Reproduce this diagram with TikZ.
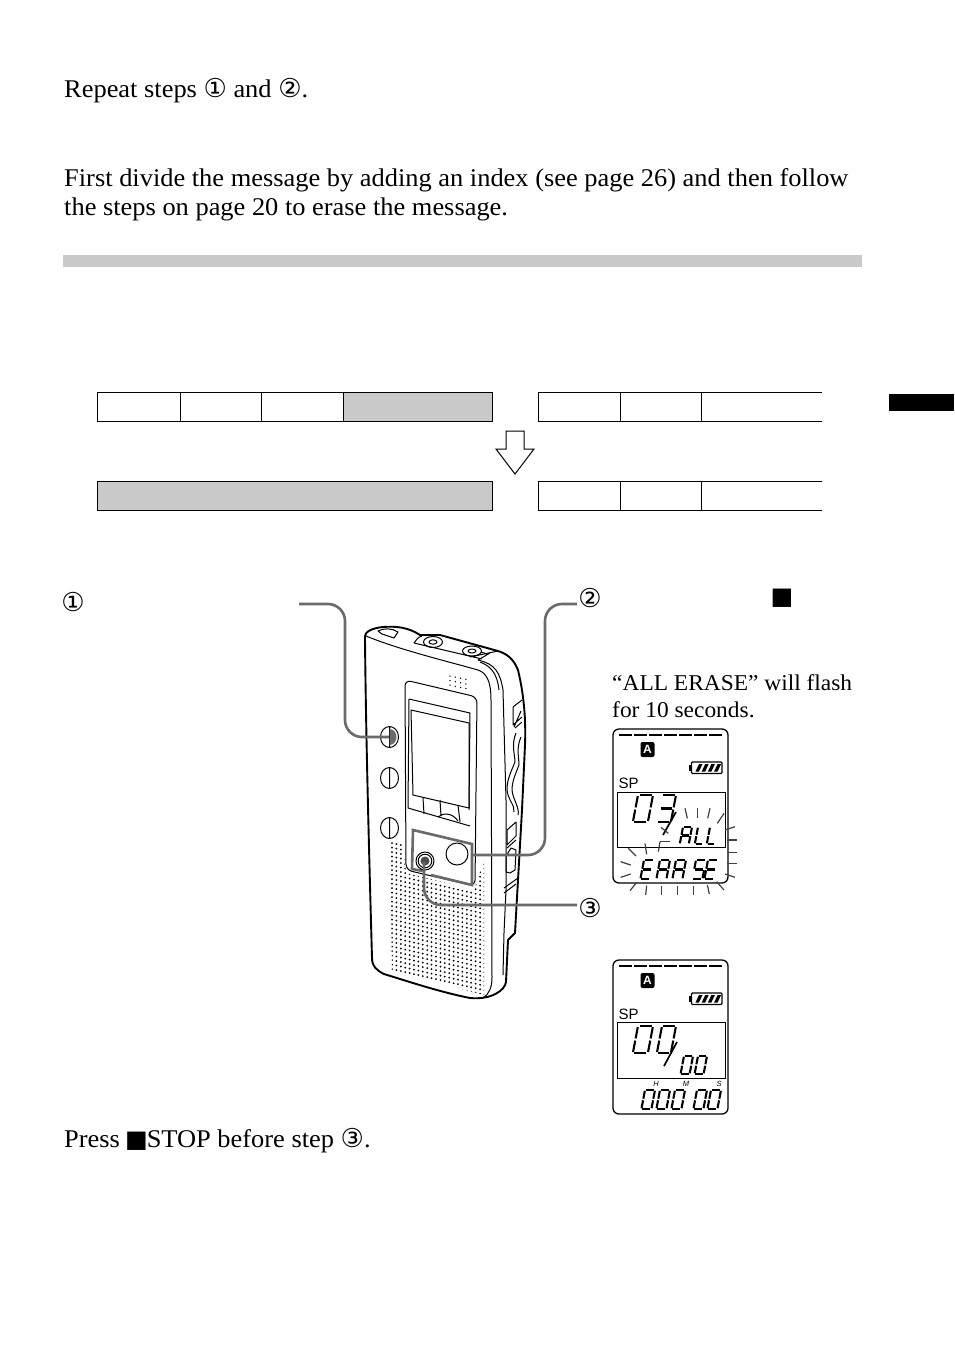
\documentclass[tikz,border=0pt]{standalone}
\usepackage{fontspec}
\setmainfont{Liberation Serif}[FakeStretch=1.036]
\newfontfamily\symf{DejaVu Sans}
\newfontfamily\lcdf{Liberation Sans}
\usetikzlibrary{calc}
\definecolor{barg}{HTML}{C9C9C9}
\definecolor{conng}{HTML}{6A6A6A}
\newcommand\circfont{\symf\fontsize{26}{24}\selectfont}
\tikzset{
 body/.style={anchor=base west,inner sep=0pt,font=\fontsize{25.5}{28}\selectfont},
 bodysmall/.style={anchor=base west,inner sep=0pt,font=\fontsize{22.6}{26}\selectfont},
 circnum/.style={inner sep=0pt,font=\circfont},
 cell/.style={draw=black,line width=.9pt},
 conn/.style={draw=conng,line width=2.6pt,rounded corners=17pt},
 dev/.style={draw=black,line width=1pt,line join=round},
 devb/.style={draw=black,line width=1.9pt,line join=round},
 segl/.style={draw=black,line width=2.1pt,line cap=butt},
 ray/.style={draw=black!75,line width=1.2pt},
 lcdbox/.style={draw=black,line width=1.3pt,rounded corners=6pt},
 lcdin/.style={draw=black,line width=.9pt},
}
\newcommand\segA{\draw[segl](.1,0)--(.9,0);}
\newcommand\segB{\draw[segl](1,.04)--(1,.46);}
\newcommand\segC{\draw[segl](1,.54)--(1,.96);}
\newcommand\segD{\draw[segl](.1,1)--(.9,1);}
\newcommand\segE{\draw[segl](0,.54)--(0,.96);}
\newcommand\segF{\draw[segl](0,.04)--(0,.46);}
\newcommand\segG{\draw[segl](.1,.5)--(.9,.5);}
\newcommand\dzero{\segA\segB\segC\segD\segE\segF}
\newcommand\dthree{\segA\segB\segC\segD\segG}
\newcommand\dA{\segA\segB\segC\segE\segF\segG}
\newcommand\dL{\segD\segE\segF}
\newcommand\dE{\segA\segD\segE\segF\segG}
\newcommand\dS{\segA\segC\segD\segF\segG}
\newcommand\lcddigit[5]{\begin{scope}[shift={(#1,#2)},x=#3pt,y=-#4pt,xslant=.19]#5\end{scope}}
\newcommand\lcdframe[1]{%
 \begin{scope}[yshift=-#1pt]
 \draw[lcdbox] (613,729) rectangle (728,883);
 \foreach \i in {0,...,6}{\draw[line width=2.4pt] ({619+\i*15},735)--({631.5+\i*15},735);}
 \fill[black,rounded corners=2pt] (640.5,742) rectangle (654.5,757);
 \node[inner sep=0pt,text=white,font=\lcdf\bfseries\fontsize{12}{12}\selectfont] at (647.5,749.5) {A};
 \draw[line width=1.2pt,rounded corners=1pt] (691.5,762) rectangle (722,773.5);
 \fill (689,765) rectangle (691.5,770.5);
 \foreach \i in {0,1,2,3}{\fill ({695.5+\i*6.2},771.5)--({699+\i*6.2},771.5)--({702.5+\i*6.2},764)--({699+\i*6.2},764)--cycle;}
 \node[anchor=base west,inner sep=0pt,font=\lcdf\fontsize{15}{15}\selectfont] at (618.5,788) {SP};
 \end{scope}}
\begin{document}
\begin{tikzpicture}[x=1pt,y=-1pt]
\useasboundingbox (0,0) rectangle (954,1345);
\fill[white] (0,0) rectangle (954,1345);
% page furniture
\fill[barg] (63,255) rectangle (862,267);
\fill[black] (889,394) rectangle (954,411);
% text
\node[body] (t1) at (64,97) {Repeat steps {\circfont ①} and {\circfont ②}.};
\node[body] (t2) at (64,186) {First divide the message by adding an index (see page 26) and then follow};
\node[body] (t3) at (64,215) {the steps on page 20 to erase the message.};
\node[bodysmall] (t4) at (612,690) {“ALL ERASE” will flash};
\node[bodysmall] (t5) at (612,717) {for 10 seconds.};
\node[body] (t6) at (64,1147) {Press\kern-1.5pt\ {\symf\fontsize{24}{24}\selectfont ■}\kern-1pt STOP before step {\circfont ③}.};
\node[circnum] (n1) at (73,602) {①};
\node[circnum] (n2) at (590,598) {②};
\node[circnum] (n3) at (590,908) {③};
\node[inner sep=0pt,font=\symf\fontsize{24}{24}\selectfont] (stopm) at (782,598) {■};
% message bars
\fill[barg] (343,392) rectangle (492,421);
\draw[cell] (97,392) rectangle (492,421);
\draw[cell] (180,392)--(180,421) (261,392)--(261,421) (343,392)--(343,421);
\draw[cell] (822,392)--(538,392)--(538,421)--(822,421) (620,392)--(620,421) (701,392)--(701,421);
\draw[cell,fill=barg] (97,481) rectangle (492,510);
\draw[cell] (822,481)--(538,481)--(538,510)--(822,510) (620,481)--(620,510) (701,481)--(701,510);
\draw[line width=1pt,line join=miter] (506,431)--(524,431)--(524,449)--(534,449)--(515,474)--(496,449)--(506,449)--cycle;
% ---------- device
% speaker dots
\begin{scope}
\clip (390,840)--(403,843)--(406,873)--(474,890)--(484,860)--(484,995)--(392,970)--cycle;
\foreach \i in {0,...,21}{\foreach \j in {-6,...,30}{
 \fill ({392+\i*4.4},{843+\i*4.4*.23+\j*4.5}) circle (1pt);}}
\end{scope}
% body outline
\draw[devb] (365,640)--(365,636) .. controls (365,632) and (372,628) .. (383,627)
 .. controls (395,626) and (408,627) .. (420,635) -- (440,635) -- (498,651)
 .. controls (508,654) and (514,660) .. (518,670)
 .. controls (524,695) and (526,720) .. (525,745)
 -- (522,810) -- (518,880) -- (515,933) -- (508,940)
 -- (506,982) .. controls (505,990) and (492,1000) .. (470,998)
 .. controls (440,992) and (410,982) .. (384,974)
 .. controls (376,970) and (372,966) .. (372,958)
 .. controls (369,850) and (366,740) .. (365,640);
% top details
\draw[dev] (366,636) .. controls (400,650) and (450,662) .. (478,670) .. controls (487,673) and (491,682) .. (491,700) -- (492,977) .. controls (492,988) and (489,994) .. (483,998);
\draw[dev] (414,643) .. controls (416,640) and (418,637) .. (422,636) (414,643) -- (482,659) (470,657) -- (498,651);
\draw[dev] (481,652) -- (487,654) (478,660) -- (490,653);
\draw[dev] (478,660) .. controls (495,664) and (500,672) .. (503,690) -- (506,800) -- (506,890) -- (504,933) -- (503,975) ;
\draw[dev] (480,662) .. controls (490,666) and (497,672) .. (499,690);
\draw[dev] (433,642) ellipse (9.5 and 5.5) (433,642) ellipse (4 and 2.2);
\draw[dev] (472,651) ellipse (9.5 and 5) (472,651) ellipse (4 and 2);
\draw[dev] (378,631) .. controls (384,628) and (392,628) .. (398,632) -- (394,638) -- (382,634) -- cycle;
% right side controls
\draw[dev] (513,707) -- (522,700) (513,707)--(513,725)--(522,717) (514,727)--(521,711)(515,728)--(522,722);
\draw[dev] (516,733) .. controls (511,745) and (515,755) .. (515,762) .. controls (512,770) and (507,778) .. (507,790) .. controls (508,800) and (515,805) .. (514,812);
\draw[dev] (521,737) .. controls (516,748) and (519,758) .. (519,765) .. controls (515,775) and (512,782) .. (512,790) .. controls (513,800) and (520,808) .. (518,815);
\draw[dev] (507,830) -- (516,822) -- (516,836) -- (507,845) -- cycle;
\draw[dev] (507,848)--(516,840) (506,872)--(506,856)--(511,848)--(516,850)--(515,870)--(510,873)--cycle;
\draw[dev] (504,888)--(518,878) (504,893)--(516,884);
% panel and screen
\draw[dev,rounded corners=6pt] (405,680)--(477,697)--(475,886)--(406,870)--cycle;
\draw[dev] (409,699)--(470,713)--(469,810) (409,699)--(408,808)--(470,826);
\draw[dev] (411,710)--(469,723)--(469,808)--(413,795)--cycle;
\draw[dev] (424,814)--(423,798) (438,817) .. controls (442,813) and (452,812) .. (458,821) (440,800)--(441,816);
\draw[dev] (460,822)--(458,805);
\foreach \i in {0,1,2}{\foreach \j in {0,1,2,3}{\fill ({450+\j*5.3},{676+\j*1.1+\i*4.6}) circle (.75pt);}}
% left buttons
\foreach \c in {737,778,828}{
 \draw[dev] (389.5,\c) ellipse (9 and 10.5) (389.5,{\c-10})--(389.5,{\c+10});
}
\fill[conng] (389.5,729) arc (-90:90:7 and 8) -- cycle;
% highlighted box
\draw[draw=conng,line width=2.6pt] (431,875)--(472,885)--(472,844)--(413,830)--(412,869)--(423,871);
\draw[dev] (457,854) circle (11);
\draw[dev,fill=white] (425,861) circle (9);
\draw[dev] (425,861) circle (6.8);
\fill[black!70] (425,861) circle (4.5);
% connectors
\coordinate (c1s) at (299,604); \coordinate (c1a) at (345,604); \coordinate (c1b) at (345,737); \coordinate (c1e) at (389,737);
\coordinate (c2s) at (577,604); \coordinate (c2a) at (545,604); \coordinate (c2b) at (545,855); \coordinate (c2e) at (473,855);
\coordinate (c3s) at (577,905); \coordinate (c3a) at (424,905); \coordinate (c3e) at (424,862);
\draw[conn] (c1s)--(c1a)--(c1b)--(c1e);
\draw[conn] (c2s)--(c2a)--(c2b)--(c2e);
\draw[conn] (c3s)--(c3a)--(c3e);
% LCD 1
\lcdframe{0}
\draw[lcdin] (617,792) rectangle (725,847);
\lcddigit{638}{795}{15}{27}{\dzero}
\lcddigit{662}{795}{14}{27}{\dthree}
\draw[line width=1.7pt] (676,812)--(663,835);
\lcddigit{683}{827}{9}{17}{\dA}
\lcddigit{698}{827}{8}{17}{\dL}
\lcddigit{710}{827}{8}{17}{\dL}
\lcddigit{644}{860}{10}{19}{\dE}
\lcddigit{660}{860}{10}{19}{\dA}
\lcddigit{676}{860}{10}{19}{\dA}
\lcddigit{696}{860}{10}{19}{\dS}
\lcddigit{708}{860}{10}{19}{\dE}
\foreach \a/\b/\c/\d in {255/265/262/295,293/265/293/295,330/265/323/295,372/280/352/310,405/320/375/330,410/360/380/360,412/398/382/398,412/430/382/430,405/472/375/462,372/510/350/485,328/522/322/495,280/525/280/497,232/525/232/497,185/525/185/497,137/525/140/497,90/512/110/487,62/472/92/462,62/425/92/435,85/385/108/408,135/370/140/403,180/365/175/395,210/365/180/365,183/322/205/340}{
 \draw[ray] ({600+\a/3},{720+\b/3})--({600+\c/3},{720+\d/3});}
% LCD 2
\lcdframe{231}
\draw[lcdin] (617,1022) rectangle (725,1078);
\lcddigit{638}{1026}{15}{27}{\dzero}
\lcddigit{662}{1026}{14}{27}{\dzero}
\draw[line width=1.7pt] (677,1042)--(664,1066);
\lcddigit{684}{1056}{9}{18}{\dzero}
\lcddigit{698}{1056}{9}{18}{\dzero}
\lcddigit{645}{1090}{10}{19}{\dzero}
\lcddigit{660}{1090}{10}{19}{\dzero}
\lcddigit{675}{1090}{10}{19}{\dzero}
\lcddigit{697}{1090}{10}{19}{\dzero}
\lcddigit{711}{1090}{10}{19}{\dzero}
\node[inner sep=0pt,font=\lcdf\itshape\fontsize{7.5}{8}\selectfont] (lh) at (656,1084) {H};
\node[inner sep=0pt,font=\lcdf\itshape\fontsize{7.5}{8}\selectfont] (lm) at (686,1084) {M};
\node[inner sep=0pt,font=\lcdf\itshape\fontsize{7.5}{8}\selectfont] (ls) at (719,1084) {S};
\end{tikzpicture}
\end{document}
